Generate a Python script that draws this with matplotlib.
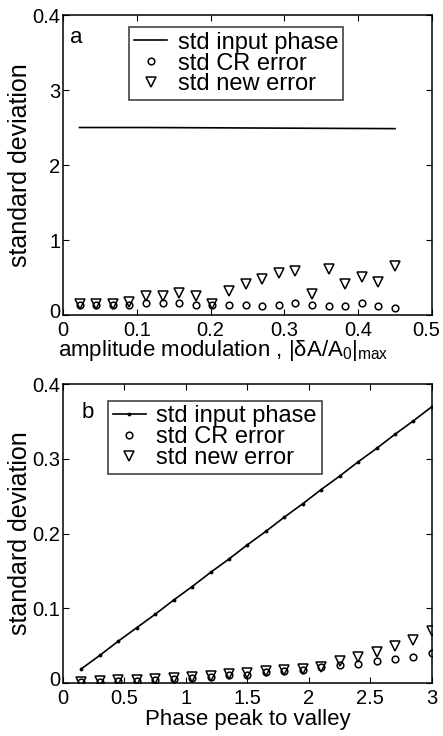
import numpy as np
import matplotlib as mpl
import matplotlib.pyplot as plt
import matplotlib.transforms as mtransforms
mpl.use("Agg")

plt.rcParams['font.family'] = ['Liberation Sans', 'DejaVu Sans']
plt.rcParams['mathtext.fontset'] = 'custom'
plt.rcParams['mathtext.rm'] = 'Liberation Sans'
plt.rcParams['mathtext.it'] = 'Liberation Sans'

# panel a: amplitude modulation
amp_mod = [0.0225, 0.045, 0.0675, 0.09, 0.1125, 0.135, 0.1575, 0.18, 0.2025, 0.225,
           0.2475, 0.27, 0.2925, 0.315, 0.3375, 0.36, 0.3825, 0.405, 0.4275, 0.45]
a_input = [2.50, 2.50, 2.50, 2.50, 2.50, 2.499, 2.498, 2.497, 2.496, 2.495,
           2.494, 2.493, 2.492, 2.491, 2.49, 2.489, 2.488, 2.487, 2.486, 2.485]
a_cr = [0.13, 0.13, 0.13, 0.14, 0.155, 0.155, 0.16, 0.13, 0.14, 0.14,
        0.14, 0.12, 0.14, 0.155, 0.14, 0.12, 0.12, 0.155, 0.12, 0.10]
a_new = [0.15, 0.15, 0.15, 0.17, 0.26, 0.26, 0.29, 0.26, 0.15, 0.32,
         0.42, 0.48, 0.56, 0.59, 0.28, 0.62, 0.41, 0.51, 0.44, 0.66]

# panel b: phase peak to valley
pv = [0.15, 0.3, 0.45, 0.6, 0.75, 0.9, 1.05, 1.2, 1.35, 1.5,
      1.65, 1.8, 1.95, 2.1, 2.25, 2.4, 2.55, 2.7, 2.85, 3.0]
b_input = [0.019, 0.037, 0.056, 0.074, 0.092, 0.111, 0.129, 0.148, 0.166, 0.185,
           0.203, 0.222, 0.240, 0.259, 0.277, 0.296, 0.314, 0.333, 0.351, 0.370]
b_cr = [0.001, 0.002, 0.003, 0.003, 0.004, 0.006, 0.007, 0.008, 0.011, 0.011,
        0.015, 0.016, 0.018, 0.021, 0.024, 0.025, 0.029, 0.032, 0.035, 0.040]
b_new = [0.002, 0.003, 0.004, 0.004, 0.005, 0.007, 0.008, 0.009, 0.012, 0.013,
         0.016, 0.017, 0.019, 0.022, 0.029, 0.035, 0.041, 0.049, 0.058, 0.070]

fs_tick = 14.5
fs_lab = 16
fs_ylab = 18
fs_leg = 17
fig = plt.figure(figsize = (4.43, 7.36), dpi = 100)
ax1 = fig.add_axes([0.142, 0.572, 0.833, 0.4076])
ax2 = fig.add_axes([0.142, 0.072, 0.833, 0.406])

def shift(label, dx, dy):
    label.set_transform(label.get_transform() + mtransforms.ScaledTranslation(dx / 72, dy / 72, fig.dpi_scale_trans))

def style(ax):
    ax.tick_params(direction = "in", top = True, right = True, length = 4, width = 0.8, labelsize = fs_tick)
    ax.tick_params(axis = "x", pad = 4)
    ax.tick_params(axis = "y", pad = 2)
    for s in ax.spines.values():
        s.set_linewidth(1.1)

def add_legend(ax, anchor):
    leg = ax.legend(loc = "upper left", bbox_to_anchor = anchor, fontsize = fs_leg, frameon = True,
                    fancybox = False, edgecolor = "black", borderpad = 0.2, labelspacing = -0.05,
                    handlelength = 1.4, handletextpad = 0.45, borderaxespad = 0)
    leg.get_frame().set_linewidth(1.1)
    return leg

mk_o = dict(linestyle = "none", marker = "o", markersize = 4.8, markerfacecolor = "none",
            markeredgecolor = "black", markeredgewidth = 1.1)
mk_v = dict(linestyle = "none", marker = "v", markersize = 7, markerfacecolor = "none",
            markeredgecolor = "black", markeredgewidth = 1.1)

# --- a ---
ax1.plot(amp_mod, a_input, color = "black", linewidth = 1.2, label = "std input phase")
ax1.plot(amp_mod, a_cr, label = "std CR error", **mk_o)
ax1.plot(amp_mod, a_new, label = "std new error", **mk_v)
ax1.set_xlim(0, 0.5)
ax1.set_ylim(0, 4)
ax1.set_xticks([0, 0.1, 0.2, 0.3, 0.4, 0.5])
ax1.set_xticklabels(["0", "0.1", "0.2", "0.3", "0.4", "0.5"])
ax1.set_yticks([0, 1, 2, 3, 4])
ax1.set_yticklabels(["0", "1", "2", "3", "0.4"])
style(ax1)
ax1.set_xlabel(r"amplitude modulation , $|\delta A/A_0|_{\rm max}$", fontsize = fs_lab)
ax1.xaxis.set_label_coords(0.434, -0.078, transform = ax1.transAxes)
ax1.xaxis.label.set_va("top")
ax1.set_ylabel("standard deviation", fontsize = fs_ylab, labelpad = 0)
ax1.text(0.02, 0.96, "a", transform = ax1.transAxes, fontsize = fs_lab, va = "top", ha = "left")
add_legend(ax1, (0.18, 0.96))

# --- b ---
ax2.plot(pv, b_input, color = "black", linewidth = 1.2, marker = ".", markersize = 3.5, label = "std input phase")
ax2.plot(pv, b_cr, label = "std CR error", **mk_o)
ax2.plot(pv, b_new, label = "std new error", **mk_v)
ax2.set_xlim(0, 3)
ax2.set_ylim(0, 0.4)
ax2.set_xticks([0, 0.5, 1, 1.5, 2, 2.5, 3])
ax2.set_xticklabels(["0", "0.5", "1", "1.5", "2", "2.5", "3"])
ax2.set_yticks([0, 0.1, 0.2, 0.3, 0.4])
ax2.set_yticklabels(["0", "0.1", "0.2", "0.3", "0.4"])
style(ax2)
ax2.set_xlabel("Phase peak to valley", fontsize = fs_lab, labelpad = 1)
ax2.set_ylabel("standard deviation", fontsize = fs_ylab, labelpad = 0)
ax2.text(0.05, 0.94, "b", transform = ax2.transAxes, fontsize = fs_lab, va = "top", ha = "left")
add_legend(ax2, (0.122, 0.945))

# nudge corner labels like the original print
for ax in (ax1, ax2):
    shift(ax.get_yticklabels()[0], 0, 3)
shift(ax1.get_xticklabels()[-1], -4, 0)

plt.savefig("out.png", dpi = 100)
plt.close(fig)
